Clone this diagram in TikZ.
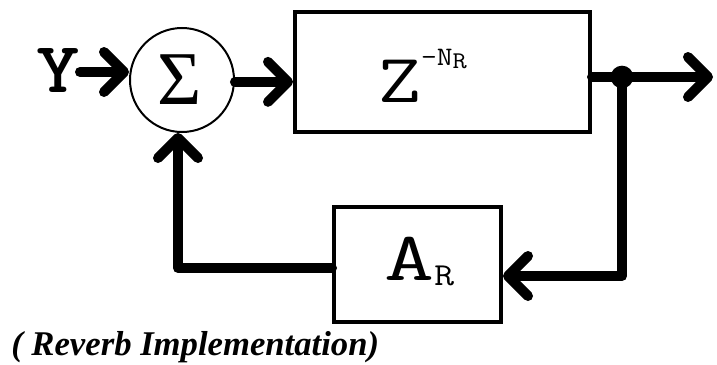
\documentclass[tikz,border=0pt]{standalone}
\usepackage{fontspec}
\setmainfont{Liberation Serif}
\usetikzlibrary{arrows.meta}
\tikzset{
  conn/.style={line width=7.5pt, line join=round, line cap=round},
  tip/.style={-{Straight Barb[length=15pt, width=30pt, round]}},
  blockbox/.style={draw, line width=3pt, rectangle, inner sep=0pt},
  sumnode/.style={draw, circle, line width=1.5pt, minimum size=78pt, inner sep=0pt},
}
\begin{document}
\begin{tikzpicture}[x=0.75pt, y=-0.75pt]
\useasboundingbox (0,0) rectangle (717,364);
% blocks
\node[sumnode] (sum) at (182,80) {};
\node (sigma) at (180,80) {\fontsize{57}{57}\selectfont Σ};
\node[blockbox, minimum width=221.25pt, minimum height=90pt] (zbox) at (442.5,72) {};
\node[blockbox, minimum width=125.25pt, minimum height=86.25pt] (abox) at (417.5,264.5) {};
% texts
\node[anchor=base, inner sep=0pt] (ylab) at (58,92) {\ttfamily\bfseries\fontsize{54}{54}\selectfont\scalebox{1.15}[1]{Y}};
\node[anchor=base west, inner sep=0pt] (ztext) at (378,102) {\ttfamily\fontsize{52}{52}\selectfont \scalebox{1.2}[1]{Z}\raisebox{27.75pt}{\fontsize{20}{20}\selectfont \scalebox{1.15}[1]{-N}\raisebox{-2.25pt}{\fontsize{18}{18}\selectfont\scalebox{1.15}[1]{R}}}};
\node[anchor=base west, inner sep=0pt] (atext) at (384,280) {\ttfamily\fontsize{52}{52}\selectfont \scalebox{1.4}[1]{A}\raisebox{-3.75pt}{\fontsize{24}{24}\selectfont\scalebox{1.2}[1]{R}}};
\node[anchor=base west, inner sep=0pt] (caption) at (11,355) {\fontsize{26}{26}\selectfont\bfseries\itshape ( Reverb Implementation)};
% coordinates
\coordinate (yend) at (80,72);
\coordinate (j) at (622,77);
\coordinate (out) at (713,77);
\coordinate (c1) at (622,276);
\coordinate (c2) at (178,268);
% connectors
\draw[conn, tip] (yend) -- (yend -| sum.west);
\draw[conn, tip] (sum.-2) -- (sum.-2 -| zbox.west);
\draw[conn, tip] (zbox.east |- j) -- (out);
\fill (j) circle[radius=8.5pt];
\draw[conn, tip] (j) -- (c1) -- (c1 -| abox.east);
\draw[conn, tip] (abox.west |- c2) -- (c2) -- (c2 |- sum.south);
\end{tikzpicture}
\end{document}
